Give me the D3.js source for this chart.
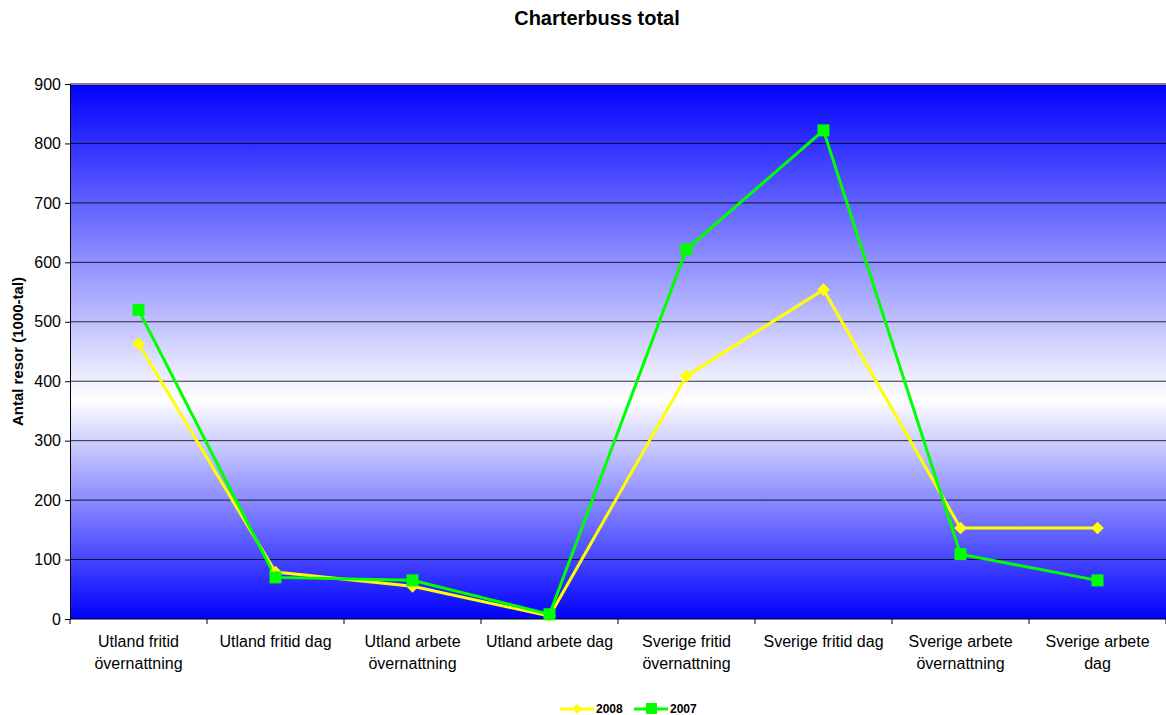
<!DOCTYPE html>
<html><head><meta charset="utf-8">
<script src="https://cdn.jsdelivr.net/npm/d3@7"></script>
<style>body{margin:0;background:#fff;font-family:"Liberation Sans",Arial,sans-serif}</style>
</head><body><svg id="c" width="1166" height="715"></svg>
<script>
const categories = [["Utland fritid","övernattning"],["Utland fritid dag"],["Utland arbete","övernattning"],["Utland arbete dag"],["Sverige fritid","övernattning"],["Sverige fritid dag"],["Sverige arbete","övernattning"],["Sverige arbete","dag"]];
const series2008 = [463, 79, 55, 5, 409, 554, 153, 153];
const series2007 = [520, 70, 65, 8, 622, 822, 109, 65];
const yTicks = [0,100,200,300,400,500,600,700,800,900];

const svg = d3.select("#c");
const L=70, R=1166, T=84, B=619;
const x = d3.scaleBand().domain(d3.range(categories.length)).range([L,R]);
const y = d3.scaleLinear().domain([0,900]).range([B,T]);

const defs = svg.append("defs");
const g = defs.append("linearGradient").attr("id","bg").attr("x1",0).attr("x2",0).attr("y1",0).attr("y2",1);
g.append("stop").attr("offset","0%").attr("stop-color","#0000ff");
g.append("stop").attr("offset","59%").attr("stop-color","#ffffff");
g.append("stop").attr("offset","100%").attr("stop-color","#0000ff");
svg.append("rect").attr("x",L).attr("y",T).attr("width",R-L).attr("height",B-T).attr("fill","url(#bg)");

// gridlines
svg.append("g").selectAll("line").data(yTicks.slice(1)).join("line")
  .attr("x1",L).attr("x2",R).attr("y1",d=>y(d)).attr("y2",d=>y(d))
  .attr("stroke",d=>d===900?"#808080":"#000").attr("stroke-width",d=>d===900?2:1).attr("opacity",d=>d===900?1:0.8);

// y axis
const ya = svg.append("g").attr("transform",`translate(${L},0)`).call(d3.axisLeft(y).tickValues(yTicks).tickSize(5).tickPadding(4).tickFormat(d3.format("d")));
ya.select(".domain").attr("stroke","#000");
ya.selectAll("line").attr("stroke","#000");
ya.selectAll("text").attr("font-size",16).attr("font-family","Liberation Sans, Arial").attr("fill","#000");

// x axis
svg.append("line").attr("x1",L).attr("x2",R).attr("y1",B).attr("y2",B).attr("stroke","#000");
svg.append("g").selectAll("line").data(d3.range(categories.length+1)).join("line")
  .attr("x1",d=>L+d*x.step()).attr("x2",d=>L+d*x.step()).attr("y1",B).attr("y2",B+5).attr("stroke","#000");
const xl = svg.append("g").selectAll("text").data(categories).join("text")
  .attr("x",(d,i)=>x(i)+x.bandwidth()/2).attr("y",647).attr("text-anchor","middle")
  .attr("font-size",16).attr("fill","#000");
xl.each(function(d){ const t=d3.select(this); d.forEach((s,k)=>t.append("tspan").attr("x",t.attr("x")).attr("dy",k?22:0).text(s)); });

const cx = i => x(i)+x.bandwidth()/2;
const line = d3.line().x((d,i)=>cx(i)).y(d=>y(d));
svg.append("path").attr("d",line(series2008)).attr("fill","none").attr("stroke","#ffff00").attr("stroke-width",3);
svg.append("path").attr("d",line(series2007)).attr("fill","none").attr("stroke","#00ff00").attr("stroke-width",3);
svg.append("g").selectAll("path").data(series2008).join("path")
  .attr("d",d3.symbol(d3.symbolSquare,80)())
  .attr("transform",(d,i)=>`translate(${cx(i)},${y(d)}) rotate(45)`).attr("fill","#ffff00");
svg.append("g").selectAll("rect").data(series2007).join("rect")
  .attr("x",(d,i)=>cx(i)-6).attr("y",d=>y(d)-6).attr("width",12).attr("height",12).attr("fill","#00ff00");

// title
svg.append("text").attr("x",597).attr("y",25).attr("text-anchor","middle").attr("font-size",20).attr("font-weight","bold").text("Charterbuss total");
svg.append("text").attr("transform",`translate(23,${(T+B)/2}) rotate(-90)`).attr("text-anchor","middle").attr("font-size",15).attr("font-weight","bold").text("Antal resor (1000-tal)");

// legend
const lg = svg.append("g");
lg.append("line").attr("x1",560).attr("x2",594).attr("y1",709).attr("y2",709).attr("stroke","#ffff00").attr("stroke-width",3);
lg.append("path").attr("d",d3.symbol(d3.symbolSquare,50)()).attr("transform","translate(577,709) rotate(45)").attr("fill","#ffff00");
lg.append("text").attr("x",596).attr("y",713).attr("font-size",12).attr("font-weight","bold").text("2008");
lg.append("line").attr("x1",634).attr("x2",668).attr("y1",709).attr("y2",709).attr("stroke","#00ff00").attr("stroke-width",3);
lg.append("rect").attr("x",646).attr("y",703).attr("width",11).attr("height",11).attr("fill","#00ff00");
lg.append("text").attr("x",670).attr("y",713).attr("font-size",12).attr("font-weight","bold").text("2007");
</script></body></html>
